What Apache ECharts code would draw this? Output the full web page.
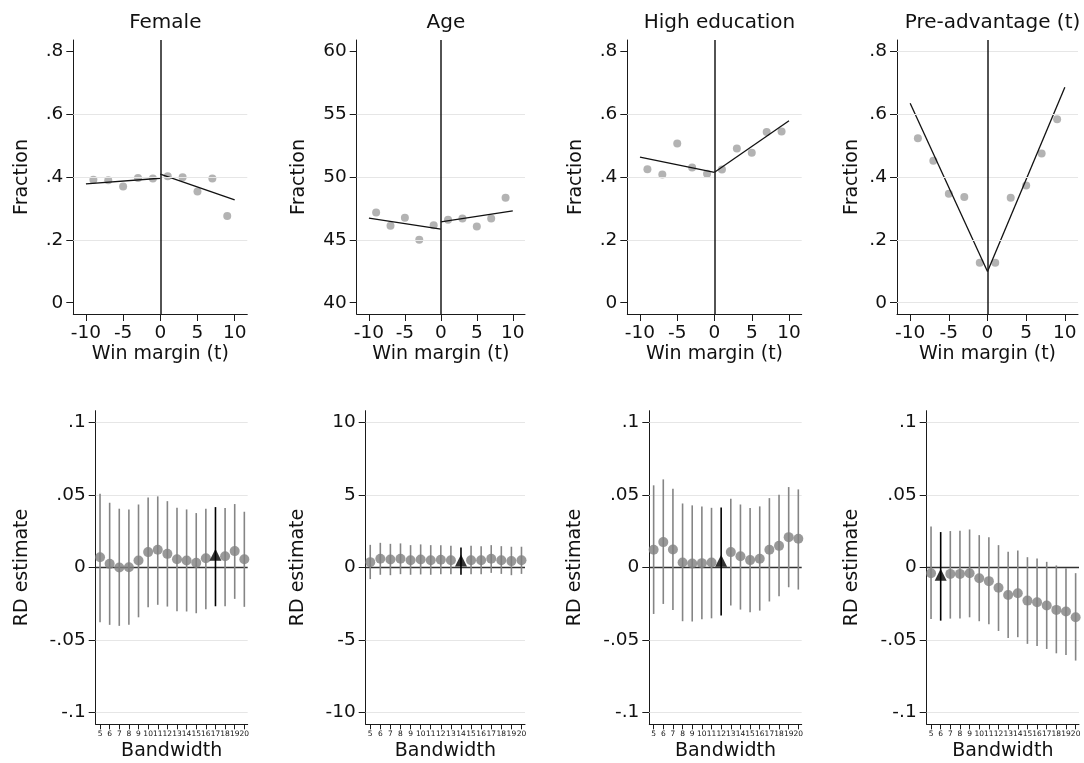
<!DOCTYPE html>
<html><head><meta charset="utf-8">
<script src="https://cdn.jsdelivr.net/npm/echarts@6/dist/echarts.min.js"></script>
<style>html,body{margin:0;padding:0;background:#fff}#c{width:1084px;height:763px}</style>
</head><body><div id="c"></div>
<script>
// ---------- DATA ----------
const panelTitles = ['Female', 'Age', 'High education', 'Pre-advantage (t)'];
const binX = [-9, -7, -5, -3, -1, 1, 3, 5, 7, 9];
const femaleMeans = [0.391, 0.390, 0.370, 0.397, 0.395, 0.402, 0.399, 0.354, 0.395, 0.276];
const ageMeans    = [47.18, 46.12, 46.75, 45.00, 46.17, 46.60, 46.70, 46.06, 46.70, 48.35];
const eduMeans    = [0.425, 0.408, 0.507, 0.430, 0.410, 0.424, 0.491, 0.477, 0.543, 0.545];
const preMeans    = [0.523, 0.452, 0.347, 0.336, 0.127, 0.127, 0.334, 0.373, 0.475, 0.584];
// linear fits: left side at x=-10 and x=0, right side at x=0 and x=10
const fitLeftX = [-10, 0];
const fitRightX = [0, 10];
const femaleFitLeft = [0.378, 0.396], femaleFitRight = [0.409, 0.327];
const ageFitLeft    = [46.73, 45.85], ageFitRight    = [46.43, 47.31];
const eduFitLeft    = [0.463, 0.415], eduFitRight    = [0.415, 0.579];
const preFitLeft    = [0.635, 0.099], preFitRight    = [0.099, 0.686];

const topXTicks = [-10, -5, 0, 5, 10];
const fracTicks = [0, 0.2, 0.4, 0.6, 0.8];
const ageTicks = [40, 45, 50, 55, 60];

const bandwidths = [5, 6, 7, 8, 9, 10, 11, 12, 13, 14, 15, 16, 17, 18, 19, 20];
const femaleEst = [0.0071, 0.0025, 0.0000, 0.0002, 0.0048, 0.0106, 0.0122, 0.0094, 0.0057, 0.0048, 0.0032, 0.0064, 0.0087, 0.0078, 0.0113, 0.0057];
const femaleHi  = [0.0508, 0.0446, 0.0405, 0.0400, 0.0434, 0.0483, 0.0490, 0.0457, 0.0411, 0.0400, 0.0375, 0.0405, 0.0416, 0.0409, 0.0437, 0.0384];
const femaleLo  = [-0.0377, -0.0395, -0.0402, -0.0395, -0.0343, -0.0274, -0.0257, -0.0269, -0.0301, -0.0303, -0.0315, -0.0287, -0.0267, -0.0267, -0.0216, -0.0271];
const ageEst = [0.37, 0.60, 0.55, 0.60, 0.50, 0.55, 0.50, 0.53, 0.50, 0.48, 0.50, 0.50, 0.60, 0.50, 0.44, 0.50];
const ageHi  = [1.56, 1.70, 1.63, 1.66, 1.54, 1.59, 1.54, 1.54, 1.49, 1.38, 1.49, 1.47, 1.54, 1.47, 1.43, 1.43];
const ageLo  = [-0.80, -0.50, -0.53, -0.46, -0.50, -0.48, -0.50, -0.46, -0.46, -0.50, -0.46, -0.46, -0.37, -0.44, -0.53, -0.44];
const eduEst = [0.0122, 0.0175, 0.0124, 0.0034, 0.0028, 0.0030, 0.0034, 0.0046, 0.0106, 0.0078, 0.0051, 0.0060, 0.0122, 0.0149, 0.0209, 0.0198];
const eduHi  = [0.0566, 0.0607, 0.0543, 0.0441, 0.0428, 0.0421, 0.0411, 0.0414, 0.0474, 0.0434, 0.0409, 0.0421, 0.0478, 0.0501, 0.0554, 0.0538];
const eduLo  = [-0.0320, -0.0251, -0.0292, -0.0370, -0.0372, -0.0356, -0.0350, -0.0331, -0.0262, -0.0290, -0.0308, -0.0297, -0.0234, -0.0198, -0.0136, -0.0152];
const preEst = [-0.0039, -0.0050, -0.0044, -0.0044, -0.0039, -0.0074, -0.0094, -0.0140, -0.0189, -0.0177, -0.0228, -0.0239, -0.0262, -0.0292, -0.0303, -0.0343];
const preHi  = [0.0283, 0.0244, 0.0251, 0.0253, 0.0262, 0.0223, 0.0209, 0.0154, 0.0108, 0.0117, 0.0071, 0.0062, 0.0039, 0.0014, -0.0005, -0.0039];
const preLo  = [-0.0354, -0.0366, -0.0352, -0.0352, -0.0343, -0.0370, -0.0391, -0.0437, -0.0485, -0.0480, -0.0526, -0.0540, -0.0561, -0.0591, -0.0602, -0.0641];
const chosenBandwidth = [17, 14, 12, 6];
const rdTicks = [-0.1, -0.05, 0, 0.05, 0.1];
const rdAgeTicks = [-10, -5, 0, 5, 10];

// ---------- LAYOUT / STYLE ----------
const FONT = 'DejaVu Sans';
const topGrids = [
  {left: 73.3, width: 174, top: 40, height: 274},
  {left: 356.7, width: 168.3, top: 40, height: 274},
  {left: 627.3, width: 174.4, top: 40, height: 274},
  {left: 897, width: 181, top: 40, height: 274}
];
const botGrids = [
  {left: 95.7, width: 152, top: 410.7, height: 313.6},
  {left: 365.7, width: 159.3, top: 410.7, height: 313.6},
  {left: 649.3, width: 152.4, top: 410.7, height: 313.6},
  {left: 926.7, width: 152.3, top: 410.7, height: 313.6}
];
const topNameGap = [42, 48, 42, 35];
const botNameGap = [64, 58, 65, 65];

function fmt(v) { return String(v).replace(/^(-?)0\./, '$1.'); }
function range(ticks, pad) {
  const lo = ticks[0], hi = ticks[ticks.length - 1], r = hi - lo;
  return [lo - pad * r, hi + pad * r];
}

const topMeans = [femaleMeans, ageMeans, eduMeans, preMeans];
const topFitL = [femaleFitLeft, ageFitLeft, eduFitLeft, preFitLeft];
const topFitR = [femaleFitRight, ageFitRight, eduFitRight, preFitRight];
const topYTicks = [fracTicks, ageTicks, fracTicks, fracTicks];
const topGridVals = [[0.2, 0.4, 0.6], [45, 50, 55], [0.2, 0.4, 0.6], [0, 0.2, 0.4, 0.6, 0.8]];
const botEst = [femaleEst, ageEst, eduEst, preEst];
const botHi = [femaleHi, ageHi, eduHi, preHi];
const botLo = [femaleLo, ageLo, eduLo, preLo];
const botYTicks = [rdTicks, rdAgeTicks, rdTicks, rdTicks];

const grid = [], xAxis = [], yAxis = [], series = [], title = [];

function axisCommon(ticks, fontSize, margin, tickLen) {
  return {
    axisLine: {show: true, onZero: false, lineStyle: {color: '#1a1a1a', width: 1}},
    axisTick: {show: true, customValues: ticks, length: tickLen || 7, inside: false, lineStyle: {color: '#1a1a1a', width: 1}},
    axisLabel: {customValues: ticks, formatter: fmt, fontSize: fontSize, color: '#111', fontFamily: FONT, margin: margin, hideOverlap: false},
    splitLine: {show: false}
  };
}

function ciRender(color) {
  return function (params, api) {
    const x = api.value(0), lo = api.value(1), hi = api.value(2);
    const p1 = api.coord([x, lo]), p2 = api.coord([x, hi]);
    return {type: 'line', shape: {x1: p1[0], y1: p1[1], x2: p2[0], y2: p2[1]},
      style: {stroke: color, lineWidth: 1.6}};
  };
}

for (let i = 0; i < 4; i++) {
  // ----- top panel -----
  const gi = 2 * i;
  grid.push(topGrids[i]);
  const yr = range(topYTicks[i], 0.045);
  xAxis.push(Object.assign({type: 'value', gridIndex: gi, min: -11.7, max: 11.7,
    name: 'Win margin (t)', nameLocation: 'middle', nameGap: 31,
    nameTextStyle: {fontSize: 19, color: '#111', fontFamily: FONT}}, axisCommon(topXTicks, 18.5, 10)));
  yAxis.push(Object.assign({type: 'value', gridIndex: gi, min: yr[0], max: yr[1],
    name: 'Fraction', nameLocation: 'middle', nameGap: topNameGap[i],
    nameTextStyle: {fontSize: 19, color: '#111', fontFamily: FONT}}, axisCommon(topYTicks[i], 18.5, 10)));
  const cx = topGrids[i].left + topGrids[i].width / 2;
  title.push({text: panelTitles[i], left: cx, top: 8, textAlign: 'center',
    textStyle: {fontSize: 20, fontWeight: 'normal', color: '#111', fontFamily: FONT}});
  series.push({type: 'scatter', xAxisIndex: gi, yAxisIndex: gi, symbolSize: 8, z: 3,
    itemStyle: {color: '#a0a0a0'}, data: binX.map((x, j) => [x, topMeans[i][j]]),
    markLine: {silent: true, symbol: 'none', label: {show: false}, animation: false,
      lineStyle: {color: '#e6e6e6', width: 1, type: 'solid'},
      data: topGridVals[i].map(v => ({yAxis: v}))}});
  series.push({type: 'line', xAxisIndex: gi, yAxisIndex: gi, symbol: 'none', z: 4,
    lineStyle: {color: '#111', width: 1.3}, data: fitLeftX.map((x, j) => [x, topFitL[i][j]])});
  series.push({type: 'line', xAxisIndex: gi, yAxisIndex: gi, symbol: 'none', z: 4,
    lineStyle: {color: '#111', width: 1.3}, data: fitRightX.map((x, j) => [x, topFitR[i][j]]),
    markLine: {silent: true, symbol: 'none', label: {show: false}, animation: false,
      lineStyle: {color: '#1a1a1a', width: 1.5, type: 'solid'}, data: [{xAxis: 0}]}});

  // ----- bottom panel -----
  const bi = 2 * i + 1;
  grid.push(botGrids[i]);
  const br = range(botYTicks[i], 0.04);
  const bx = Object.assign({type: 'value', gridIndex: bi, min: 4.55, max: 20.35,
    name: 'Bandwidth', nameLocation: 'middle', nameGap: 17,
    nameTextStyle: {fontSize: 19, color: '#111', fontFamily: FONT}}, axisCommon(bandwidths, 7.5, 6, 5));
  bx.axisLabel.formatter = v => String(v);
  xAxis.push(bx);
  yAxis.push(Object.assign({type: 'value', gridIndex: bi, min: br[0], max: br[1],
    name: 'RD estimate', nameLocation: 'middle', nameGap: botNameGap[i],
    nameTextStyle: {fontSize: 19, color: '#111', fontFamily: FONT}}, axisCommon(botYTicks[i], 18.5, 10)));
  const ch = chosenBandwidth[i];
  const others = bandwidths.map((b, j) => j).filter(j => bandwidths[j] !== ch);
  const cj = bandwidths.indexOf(ch);
  series.push({type: 'custom', xAxisIndex: bi, yAxisIndex: bi, z: 2,
    renderItem: ciRender('#858585'), encode: {x: 0, y: [1, 2]},
    data: others.map(j => [bandwidths[j], botLo[i][j], botHi[i][j]]),
    markLine: {silent: true, symbol: 'none', label: {show: false}, animation: false, z: 1,
      lineStyle: {color: '#e6e6e6', width: 1, type: 'solid'},
      data: botYTicks[i].filter(v => v !== 0).map(v => ({yAxis: v}))}});
  series.push({type: 'scatter', xAxisIndex: bi, yAxisIndex: bi, symbolSize: 10, z: 3,
    itemStyle: {color: '#808080'}, data: others.map(j => [bandwidths[j], botEst[i][j]]),
    markLine: {silent: true, symbol: 'none', label: {show: false}, animation: false, z: 1,
      lineStyle: {color: '#333', width: 1.4, type: 'solid'}, data: [{yAxis: 0}]}});
  series.push({type: 'custom', xAxisIndex: bi, yAxisIndex: bi, z: 4,
    renderItem: ciRender('#000'), encode: {x: 0, y: [1, 2]},
    data: [[ch, botLo[i][cj], botHi[i][cj]]]});
  series.push({type: 'scatter', xAxisIndex: bi, yAxisIndex: bi, symbol: 'triangle', symbolSize: 12, z: 5,
    itemStyle: {color: '#000'}, data: [[ch, botEst[i][cj]]]});
}

const chart = echarts.init(document.getElementById('c'), null, {renderer: 'canvas'});
chart.setOption({animation: false, backgroundColor: '#fff', title, grid, xAxis, yAxis, series});
</script>
</body></html>
